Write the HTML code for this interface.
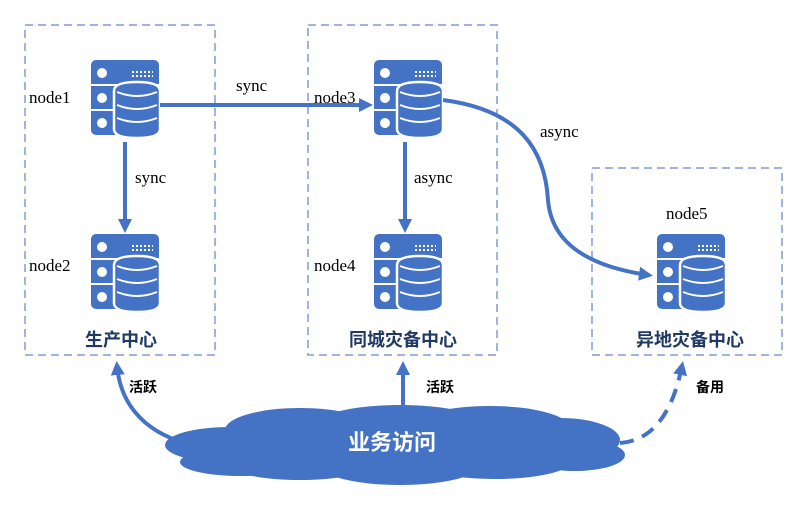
<!DOCTYPE html>
<html><head><meta charset="utf-8"><style>
body{margin:0;background:#fff}
</style></head><body>
<svg width="805" height="513" xmlns="http://www.w3.org/2000/svg" font-family="Liberation Serif, serif">
<defs>
<marker id="ah" markerWidth="14" markerHeight="14" refX="9" refY="7" orient="auto" markerUnits="userSpaceOnUse" viewBox="0 0 14 14">
<path d="M0,0 L14,7 L0,14 z" fill="#4472c4"/></marker>
<g id="srv">
<rect x="0" y="0" width="68" height="75" rx="5" fill="#4472c4"/>
<line x1="0" y1="25" x2="68" y2="25" stroke="#fff" stroke-width="2"/>
<line x1="0" y1="50" x2="68" y2="50" stroke="#fff" stroke-width="2"/>
<circle cx="11" cy="13" r="5" fill="#fff"/>
<circle cx="11" cy="38" r="5" fill="#fff"/>
<circle cx="11" cy="63" r="5" fill="#fff"/>
<line x1="41" y1="12" x2="62" y2="12" stroke="#fff" stroke-width="2" stroke-dasharray="2,2"/>
<line x1="41" y1="16" x2="62" y2="16" stroke="#fff" stroke-width="2" stroke-dasharray="2,2"/>
<path d="M23,31 Q23,22 46,22 Q69,22 69,31 L69,69 Q69,78 46,78 Q23,78 23,69 Z" fill="#4472c4" stroke="#fff" stroke-width="2.5"/>
<path d="M26,32 Q46,40 66,32" fill="none" stroke="#fff" stroke-width="2"/>
<path d="M26,45 Q46,53 66,45" fill="none" stroke="#fff" stroke-width="2"/>
<path d="M26,58 Q46,66 66,58" fill="none" stroke="#fff" stroke-width="2"/>
</g>
</defs>
<g fill="none" stroke="#9db5e0" stroke-width="2" stroke-dasharray="8,5">
<rect x="25" y="25" width="190" height="330"/>
<rect x="308" y="25" width="189" height="330"/>
<rect x="592" y="168" width="190" height="187"/>
</g>
<use href="#srv" x="91" y="60"/>
<use href="#srv" x="91" y="234"/>
<use href="#srv" x="374" y="60"/>
<use href="#srv" x="374" y="234"/>
<use href="#srv" x="657" y="234"/>
<g font-size="17" fill="#000">
<text x="29" y="103">node1</text>
<text x="29" y="271">node2</text>
<text x="314" y="103">node3</text>
<text x="314" y="271">node4</text>
<text x="666" y="219">node5</text>
<text x="236" y="91">sync</text>
<text x="135" y="183">sync</text>
<text x="414" y="183">async</text>
<text x="540" y="137">async</text>
</g>
<g stroke="#4472c4" stroke-width="4" fill="none">
<line x1="160" y1="105" x2="368" y2="105" marker-end="url(#ah)"/>
<line x1="125" y1="142" x2="125" y2="228" marker-end="url(#ah)"/>
<line x1="405" y1="142" x2="405" y2="228" marker-end="url(#ah)"/>
<path d="M443,100 C520,110 545,150 548,200 C552,250 600,268 648,275" marker-end="url(#ah)"/>
<path d="M185,443 C140,430 120,400 117,366" marker-end="url(#ah)"/>
<line x1="403" y1="412" x2="403" y2="366" marker-end="url(#ah)"/>
<path d="M620,443 C660,440 675,400 682,366" stroke-dasharray="14,9" marker-end="url(#ah)"/>
</g>
<g font-family="Liberation Sans, Noto Sans CJK SC, sans-serif" font-weight="bold" fill="#1f3864" font-size="18" text-anchor="middle">
<text x="121" y="346">生产中心</text>
<text x="403" y="346">同城灾备中心</text>
<text x="690" y="346">异地灾备中心</text>
</g>
<g font-family="Liberation Sans, Noto Sans CJK SC, sans-serif" font-weight="bold" fill="#000" font-size="14">
<text x="129" y="392">活跃</text>
<text x="426" y="392">活跃</text>
<text x="696" y="392">备用</text>
</g>
<g fill="#4472c4">
<ellipse cx="230" cy="445" rx="65" ry="18"/>
<ellipse cx="240" cy="462" rx="60" ry="14"/>
<ellipse cx="300" cy="430" rx="75" ry="22"/>
<ellipse cx="300" cy="465" rx="70" ry="15"/>
<ellipse cx="400" cy="423" rx="80" ry="18"/>
<ellipse cx="400" cy="465" rx="80" ry="20"/>
<ellipse cx="490" cy="428" rx="80" ry="22"/>
<ellipse cx="495" cy="462" rx="75" ry="17"/>
<ellipse cx="560" cy="440" rx="60" ry="22"/>
<ellipse cx="575" cy="455" rx="50" ry="16"/>
<rect x="220" y="430" width="370" height="35"/>
</g>
<text x="392" y="450" font-family="Liberation Sans, Noto Sans CJK SC, sans-serif" font-weight="bold" fill="#fff" font-size="22" text-anchor="middle">业务访问</text>
</svg>
</body></html>
